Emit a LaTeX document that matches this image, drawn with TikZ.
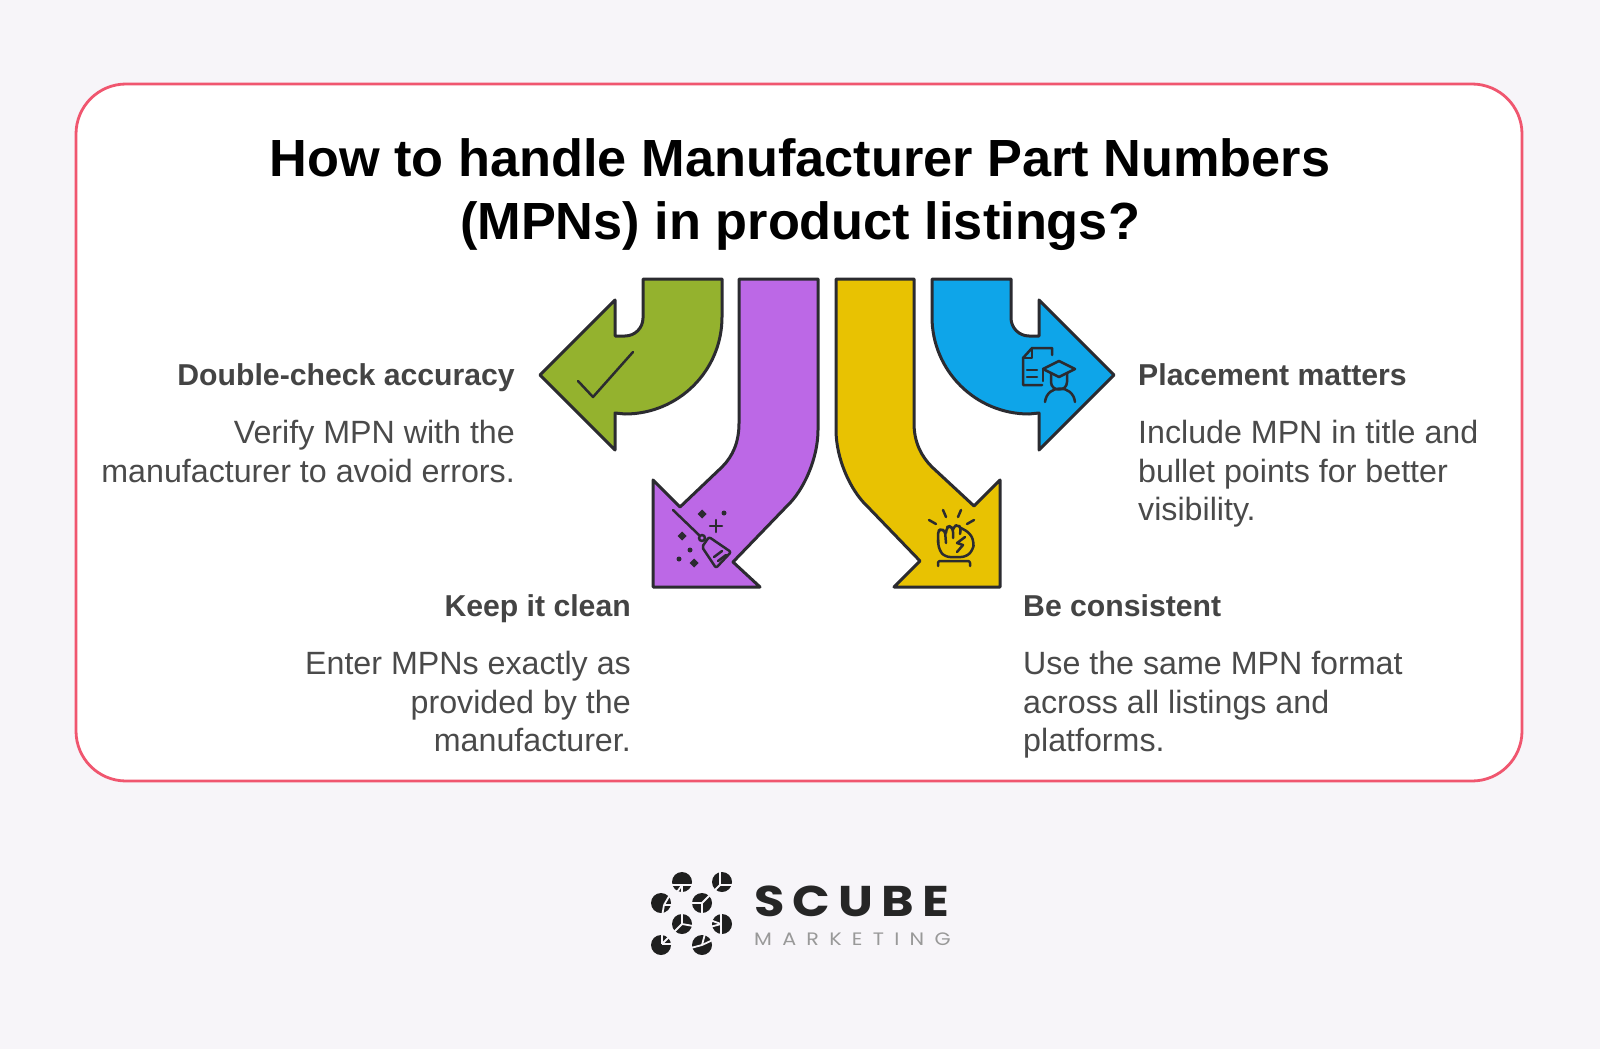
\documentclass[tikz,border=0pt]{standalone}
\usepackage{fontspec}
\setmainfont{Liberation Sans}
\newfontfamily\logofont{Poppins}[FakeStretch=1.15]
\usetikzlibrary{positioning,
				calc}
\definecolor{pagebg}{HTML}{F7F5F9}
\definecolor{cardline}{HTML}{F0566F}
\definecolor{inkline}{HTML}{2B2B30}
\definecolor{bodytext}{HTML}{4A4A4A}
\definecolor{headtext}{HTML}{444444}
\definecolor{leafgreen}{HTML}{94B22E}
\definecolor{violet}{HTML}{BC68E6}
\definecolor{amber}{HTML}{E8C202}
\definecolor{skyblue}{HTML}{0EA5E9}
\tikzset{
	arrowshape/.style={draw=inkline, line width=3pt, line join=round},
	iconline/.style={draw=inkline, line width=2.5pt, line cap=round, line join=round},
	headleft/.style={font=\fontsize{30.2}{36}\selectfont\bfseries, text=headtext, anchor=base east, inner sep=0pt},
	headright/.style={font=\fontsize{30.2}{36}\selectfont\bfseries, text=headtext, anchor=base west, inner sep=0pt},
	bodyleft/.style={below=35pt of #1.base east, font=\fontsize{32.2}{38.5}\selectfont, text=bodytext, align=right, anchor=north east, inner sep=0pt},
	bodyright/.style={below=35pt of #1.base west, font=\fontsize{32.2}{38.5}\selectfont, text=bodytext, align=left, anchor=north west, inner sep=0pt},
}
\begin{document}
\begin{tikzpicture}[x=1pt,y=-1pt]
	\fill[pagebg] (0,0) rectangle (1600,1049);
	\useasboundingbox (0,0) rectangle (1600,1049);
	\draw[cardline, fill=white, line width=2.8pt, rounded corners=50pt] (76,84) rectangle (1522,781);

	\node[font=\fontsize{52.3}{63}\selectfont\bfseries, align=center, anchor=center] (title) at (800,195) {How to handle Manufacturer Part Numbers\\(MPNs) in product listings?};

	% arrows
	\draw[arrowshape, fill=leafgreen] (643,279) -- (722,279) -- (722,317) arc (0:90:97) -- (615,413) -- (615,450) -- (540,375) -- (615,300) -- (615,336) -- (625,336) arc (90:0:18) -- cycle;
	\draw[arrowshape, fill=skyblue] (1011,279) -- (932,279) -- (932,317) arc (180:90:97) -- (1039,413) -- (1039,450) -- (1114,375) -- (1039,300) -- (1039,336) -- (1029,336) arc (90:180:18) -- cycle;
	\draw[arrowshape, fill=violet] (739,279) -- (818,279) -- (818,430) .. controls (818,458) and (804,490) .. (787,506) -- (733,562) -- (760,587) -- (653,587) -- (653,480) -- (680,507) -- (722,467) .. controls (733,456) and (739,442) .. (739,423) -- cycle;
	\draw[arrowshape, fill=amber] (914,279) -- (836,279) -- (836,430) .. controls (836,458) and (850,490) .. (867,506) -- (920,561) -- (894,587) -- (1000,587) -- (1000,480) -- (974,506) -- (932,467) .. controls (921,456) and (914,442) .. (914,423) -- cycle;

	% check mark
	\draw[iconline] (578,381) -- (593,397) -- (633,352);

	% broom
	\draw[iconline] (673,510) -- (699,535);
	\draw[iconline] (702,538) circle (3);
	\draw[iconline, rounded corners=2pt] (702,547) -- (709,537) -- (731,552) -- (716,568) -- cycle;
	\draw[iconline] (714,557) -- (722,551) (718,561) -- (726,555);
	\draw[iconline] (710,526) -- (722,526) (716,520) -- (716,532);
	\foreach \px/\py in {702/514, 682/536, 694/563}
		\fill[inkline] (\px-4.5,\py) -- (\px,\py-4.5) -- (\px+4.5,\py) -- (\px,\py+4.5) -- cycle;
	\foreach \px/\py in {724/513, 690/550, 679/559}
		\fill[inkline] (\px,\py) circle (2.5);

	% fist
	\draw[iconline] (929,520) -- (936,524) (943,510) -- (946,517) (961,510) -- (958,517) (974,520) -- (967,524);
	\draw[iconline, rounded corners=2pt] (938,566) -- (938,561) -- (970,561) -- (970,566);
	\draw[iconline, rounded corners=3pt] (938,543) -- (938,531) -- (941,529) -- (945,531) -- (946,543);
	\draw[iconline, rounded corners=3pt] (946,533) -- (947,527) -- (950,526) -- (953,529) -- (953,538);
	\draw[iconline, rounded corners=3pt] (953,530) -- (954,526) -- (958,525) -- (961,528) -- (960,534);
	\draw[iconline, rounded corners=5pt] (961,528) -- (970,533) -- (974,542) -- (973,550) -- (966,557) -- (945,557) -- (939,550) -- (938,540);
	\draw[iconline] (965,537) -- (957,543) -- (963,545) -- (957,552);

	% document and graduate
	\draw[iconline] (1052,355) -- (1052,348) -- (1032,348) -- (1023,358) -- (1023,385) -- (1042,385);
	\draw[iconline] (1032,348) -- (1032,358) -- (1023,358);
	\draw[iconline] (1027,370) -- (1037,370) (1027,377) -- (1037,377);
	\draw[iconline] (1043,369) -- (1059,361) -- (1075,369) -- (1059,377) -- cycle;
	\draw[iconline] (1043,369) -- (1043,381);
	\draw[iconline] (1051,373) -- (1051,382) .. controls (1051,392) and (1067,392) .. (1067,382) -- (1067,373);
	\draw[iconline] (1045,402) .. controls (1047,384) and (1073,384) .. (1075,402);

	% labels
	\node[headleft] (checkhead) at (515,385) {Double-check accuracy};
	\node[bodyleft=checkhead] (checkbody) {Verify MPN with the\\manufacturer to avoid errors.};
	\node[headleft] (cleanhead) at (631,616) {Keep it clean};
	\node[bodyleft=cleanhead] (cleanbody) {Enter MPNs exactly as\\provided by the\\manufacturer.};
	\node[headright] (placehead) at (1138,385) {Placement matters};
	\node[bodyright=placehead] (placebody) {Include MPN in title and\\bullet points for better\\visibility.};
	\node[headright] (samehead) at (1023,616) {Be consistent};
	\node[bodyright=samehead] (samebody) {Use the same MPN format\\across all listings and\\platforms.};

	% logo
	\foreach \lx/\ly/\hx/\hy/\cuts in {682/882/0/3/{0,180,90,125}, 722/882/-2/3/{135,0,270}, 661/903/3/2/{300,0,100}, 702/903/0/0/{315,180,90}, 682/924/0/0/{270,10,135}, 722/924/-1/0/{270,90,165,200}, 661/945/1/-1/{270,0,315}, 702/945/0/0/{165,335,285}}{
		\fill[black!88] (\lx,\ly) circle (10);
		\foreach \ang in \cuts
			\draw[pagebg, line width=1.8pt] (\lx+\hx,\ly+\hy) -- ++(\ang:14);
	}
	\node[font=\logofont\fontsize{43}{43}\selectfont\bfseries\addfontfeatures{LetterSpace=19}, text=black!85, anchor=base west, inner sep=0pt] (logoname) at (754,916) {SCUBE};
	\node[font=\logofont\fontsize{18}{18}\selectfont\addfontfeatures{LetterSpace=57}, text=black!40, anchor=base west, inner sep=0pt] (logosub) at (754,945) {MARKETING};
\end{tikzpicture}
\end{document}
